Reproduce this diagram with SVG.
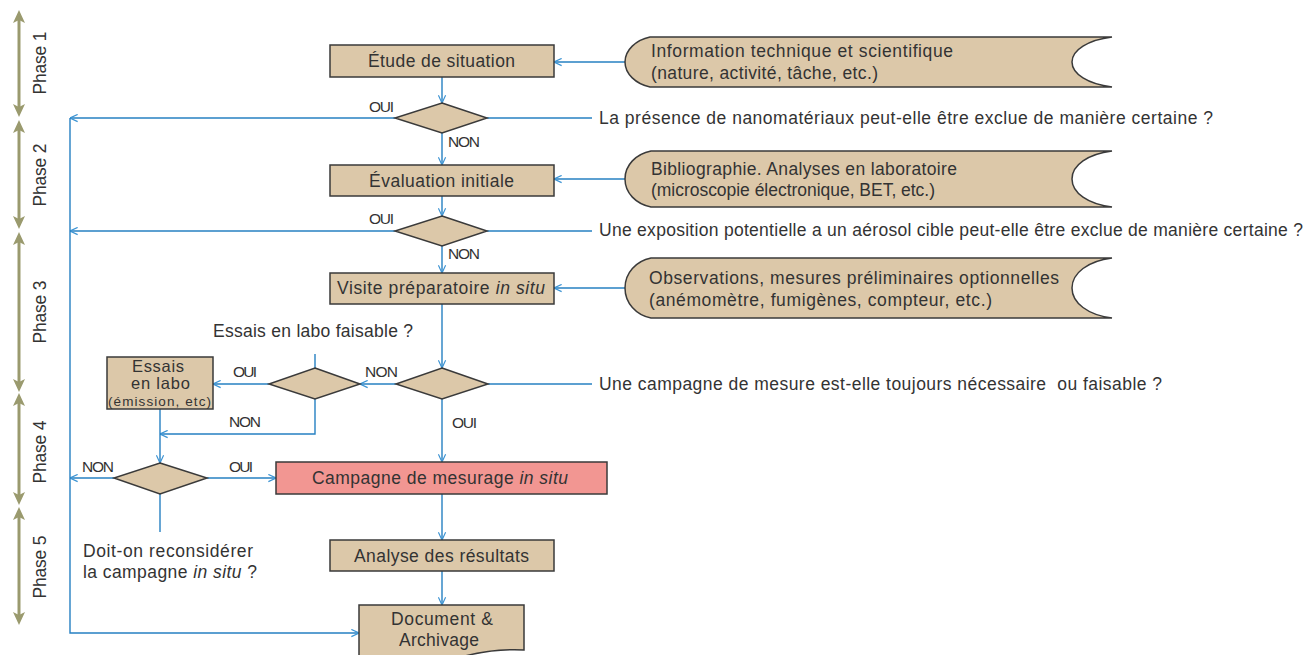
<svg xmlns="http://www.w3.org/2000/svg" width="1309" height="655" viewBox="0 0 1309 655">
<defs>
<style>
text{font-family:"Liberation Sans",Arial,sans-serif;fill:#333;}
.t{font-size:17.5px;}
.b{font-size:16.5px;}
.s{font-size:15.5px;}
.xs{font-size:13.5px;}
.q{font-size:17.5px;}
.box{fill:#dcc8a9;stroke:#3a3a3a;stroke-width:1.5;}
.pink{fill:#f29692;stroke:#3a3a3a;stroke-width:1.5;}
.c{fill:none;stroke:#2680c2;stroke-width:1.4;}
.ca{fill:none;stroke:#2680c2;stroke-width:1.4;marker-end:url(#arr);}
.ph{stroke:#9a9a6e;stroke-width:3;}
.phh{fill:#9a9a6e;}
</style>
<marker id="arr" viewBox="0 0 10 10" refX="9.5" refY="5" markerWidth="9" markerHeight="9" markerUnits="userSpaceOnUse" orient="auto">
<path d="M1,1 L9.5,5 L1,9" fill="none" stroke="#3b93d3" stroke-width="1.3"/>
</marker>
</defs>

<g id="phases">
<g id="phase1">
<line class="ph" x1="19" y1="19" x2="19" y2="108"/>
<polygon class="phh" points="19,10 25,23 19,20 13,23"/>
<polygon class="phh" points="19,117 25,104 19,107 13,104"/>
<text class="t" transform="translate(46,63) rotate(-90)" text-anchor="middle" textLength="63">Phase 1</text>
</g>
<g id="phase2">
<line class="ph" x1="19" y1="129" x2="19" y2="220"/>
<polygon class="phh" points="19,120 25,133 19,130 13,133"/>
<polygon class="phh" points="19,229 25,216 19,219 13,216"/>
<text class="t" transform="translate(46,175) rotate(-90)" text-anchor="middle" textLength="63">Phase 2</text>
</g>
<g id="phase3">
<line class="ph" x1="19" y1="241" x2="19" y2="383"/>
<polygon class="phh" points="19,232 25,245 19,242 13,245"/>
<polygon class="phh" points="19,392 25,379 19,382 13,379"/>
<text class="t" transform="translate(46,312) rotate(-90)" text-anchor="middle" textLength="63">Phase 3</text>
</g>
<g id="phase4">
<line class="ph" x1="19" y1="402" x2="19" y2="496"/>
<polygon class="phh" points="19,393 25,406 19,403 13,406"/>
<polygon class="phh" points="19,505 25,492 19,495 13,492"/>
<text class="t" transform="translate(46,452) rotate(-90)" text-anchor="middle" textLength="63">Phase 4</text>
</g>
<g id="phase5">
<line class="ph" x1="19" y1="516" x2="19" y2="616"/>
<polygon class="phh" points="19,507 25,520 19,517 13,520"/>
<polygon class="phh" points="19,625 25,612 19,615 13,612"/>
<text class="t" transform="translate(46,567) rotate(-90)" text-anchor="middle" textLength="63">Phase 5</text>
</g>
</g>

<g id="connectors">
<line class="ca" x1="442" y1="77" x2="442" y2="103"/>
<line class="ca" x1="442" y1="133" x2="442" y2="165"/>
<line class="ca" x1="442" y1="196" x2="442" y2="216"/>
<line class="ca" x1="442" y1="246" x2="442" y2="273"/>
<line class="ca" x1="442" y1="304" x2="442" y2="368"/>
<line class="ca" x1="442" y1="399" x2="442" y2="462"/>
<line class="ca" x1="442" y1="494" x2="442" y2="540"/>
<line class="ca" x1="442" y1="571" x2="442" y2="605"/>
<line class="ca" x1="625" y1="62" x2="554" y2="62"/>
<line class="ca" x1="625" y1="179" x2="554" y2="179"/>
<line class="ca" x1="625" y1="288" x2="554" y2="288"/>
<line class="ca" x1="395" y1="118" x2="70" y2="118"/>
<line class="ca" x1="395" y1="231" x2="70" y2="231"/>
<line class="c" x1="487" y1="118" x2="592" y2="118"/>
<line class="c" x1="487" y1="231" x2="592" y2="231"/>
<line class="c" x1="488" y1="384" x2="592" y2="384"/>
<line class="ca" x1="396" y1="384" x2="360" y2="384"/>
<line class="ca" x1="269" y1="384" x2="213" y2="384"/>
<line class="c" x1="315" y1="354" x2="315" y2="368"/>
<polyline class="ca" points="315,399 315,434 160,434"/>
<line class="ca" x1="160" y1="409" x2="160" y2="463"/>
<line class="ca" x1="207" y1="478" x2="276" y2="478"/>
<line class="ca" x1="114" y1="478" x2="70" y2="478"/>
<line class="c" x1="160" y1="494" x2="160" y2="532"/>
<polyline class="ca" points="70,118 70,633 359,633"/>
<text class="s" x="369" y="112" textLength="25">OUI</text>
<text class="s" x="448" y="147" textLength="32">NON</text>
<text class="s" x="369" y="224" textLength="25">OUI</text>
<text class="s" x="448" y="259" textLength="32">NON</text>
<text class="s" x="365" y="377" textLength="33">NON</text>
<text class="s" x="452" y="428" textLength="25">OUI</text>
<text class="s" x="233" y="377" textLength="24">OUI</text>
<text class="s" x="229" y="427" textLength="32">NON</text>
<text class="s" x="229" y="472" textLength="24">OUI</text>
<text class="s" x="82" y="472" textLength="32">NON</text>
</g>

<g id="etude">
<rect class="box" x="330" y="45" width="224" height="32"/>
<text class="t" x="368" y="67" textLength="147">Étude de situation</text>
</g>
<g id="diamond1">
<polygon class="box" points="442,103 487,118 442,133 395,118"/>
</g>
<g id="question1">
<text class="q" x="599" y="124" textLength="614">La présence de nanomatériaux peut-elle être exclue de manière certaine ?</text>
</g>
<g id="evaluation">
<rect class="box" x="330" y="165" width="224" height="31"/>
<text class="t" x="369" y="187" textLength="145">Évaluation initiale</text>
</g>
<g id="diamond2">
<polygon class="box" points="442,216 487,231 442,246 395,231"/>
</g>
<g id="question2">
<text class="q" x="599" y="236" textLength="704">Une exposition potentielle a un aérosol cible peut-elle être exclue de manière certaine ?</text>
</g>
<g id="visite">
<rect class="box" x="330" y="273" width="224" height="31"/>
<text class="t" x="337" y="294" textLength="208">Visite préparatoire <tspan font-style="italic">in situ</tspan></text>
</g>
<g id="diamond3">
<polygon class="box" points="442,368 488,384 442,399 396,384"/>
</g>
<g id="question3">
<text class="q" x="599" y="390" textLength="563">Une campagne de mesure est-elle toujours nécessaire&#160; ou faisable ?</text>
</g>
<g id="diamond4">
<polygon class="box" points="315,368 360,384 315,399 269,384"/>
<text class="t" x="213" y="337" textLength="200">Essais en labo faisable ?</text>
</g>
<g id="essais">
<rect class="box" x="107" y="357" width="106" height="52"/>
<text class="b" x="132" y="372" textLength="52">Essais</text>
<text class="b" x="131" y="389" textLength="59">en labo</text>
<text class="xs" x="108" y="406" textLength="103">(émission, etc)</text>
</g>
<g id="diamond5">
<polygon class="box" points="160,463 207,478 160,494 114,478"/>
<text class="t" x="83" y="557" textLength="170">Doit-on reconsidérer</text>
<text class="t" x="83" y="578" textLength="174">la campagne <tspan font-style="italic">in situ</tspan> ?</text>
</g>
<g id="campagne">
<rect class="pink" x="276" y="462" width="331" height="32"/>
<text class="t" x="312" y="484" textLength="256">Campagne de mesurage <tspan font-style="italic">in situ</tspan></text>
</g>
<g id="analyse">
<rect class="box" x="330" y="540" width="224" height="31"/>
<text class="t" x="354" y="562" textLength="175">Analyse des résultats</text>
</g>
<g id="document">
<path class="box" d="M359,605 H524 V650 Q485,648 445,662 H359 Z"/>
<text class="t" x="391" y="625" textLength="102">Document &amp;</text>
<text class="t" x="399" y="646" textLength="80">Archivage</text>
</g>
<g id="info1">
<path class="box" d="M650,37 H1112 C1088,40 1072,50 1072,62 C1072,74 1088,84 1112,87 H650 C636,84 625,74 625,62 C625,50 636,40 650,37 Z"/>
<text class="t" x="651" y="57" textLength="302">Information technique et scientifique</text>
<text class="t" x="651" y="79" textLength="227">(nature, activité, tâche, etc.)</text>
</g>
<g id="info2">
<path class="box" d="M651,151 H1112 C1088,154 1072,165 1072,179 C1072,193 1088,204 1112,207 H651 C636,204 625,193 625,179 C625,165 636,154 651,151 Z"/>
<text class="t" x="651" y="175" textLength="306">Bibliographie. Analyses en laboratoire</text>
<text class="t" x="651" y="196" textLength="284">(microscopie électronique, BET, etc.)</text>
</g>
<g id="info3">
<path class="box" d="M651,258 H1112 C1088,261 1072,273 1072,288 C1072,303 1088,315 1112,318 H651 C636,315 625,303 625,288 C625,273 636,261 651,258 Z"/>
<text class="t" x="649" y="284" textLength="410">Observations, mesures préliminaires optionnelles</text>
<text class="t" x="649" y="306" textLength="343">(anémomètre, fumigènes, compteur, etc.)</text>
</g>
</svg>
